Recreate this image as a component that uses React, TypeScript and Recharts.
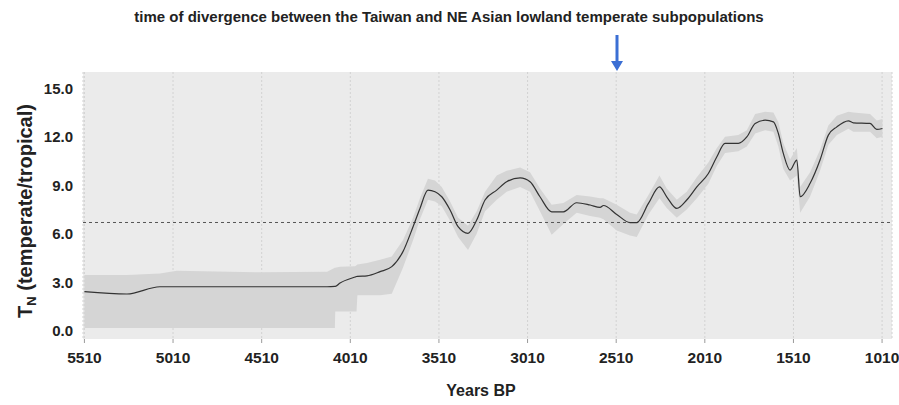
import {
  ComposedChart,
  Area,
  Line,
  XAxis,
  YAxis,
  CartesianGrid,
  ReferenceLine,
} from "recharts";

// years before present (x), mean T_N and the shaded interval around it
const years = [
  5510, 5270, 5084, 4988, 4520, 4141, 4097, 4095, 4068, 3983, 3975, 3970,
  3916, 3842, 3776, 3713, 3656, 3617, 3572, 3532, 3494, 3447, 3402, 3346,
  3297, 3250, 3184, 3128, 3052, 2996, 2940, 2874, 2808, 2733, 2657, 2601,
  2582, 2507, 2432, 2394, 2328, 2266, 2225, 2168, 2112, 2055, 1990, 1942,
  1896, 1821, 1773, 1726, 1670, 1623, 1595, 1567, 1529, 1491, 1472, 1416,
  1360, 1313, 1265, 1200, 1172, 1078, 1040, 1008,
];
const meanTn = [
  2.43, 2.28, 2.73, 2.73, 2.73, 2.73, 2.75, 2.75, 2.96, 3.33, 3.36, 3.37,
  3.4, 3.66, 3.97, 4.9, 6.44, 7.57, 8.7, 8.6, 8.29, 7.47, 6.44, 6.03,
  6.85, 8.09, 8.7, 9.22, 9.46, 9.22, 8.29, 7.36, 7.36, 7.92, 7.78, 7.63,
  7.75, 7.2, 6.69, 6.69, 7.88, 8.9, 8.29, 7.57, 8.09, 8.9, 9.73, 10.76,
  11.59, 11.59, 11.99, 12.82, 13.02, 12.92, 12.2, 10.97, 9.94, 10.56, 8.29, 9.12,
  10.56, 12.1, 12.61, 12.98, 12.86, 12.82, 12.45, 12.51,
];
const lowerTn = [
  0.18, 0.18, 0.18, 0.18, 0.18, 0.18, 0.18, 1.2, 1.2, 1.2, 1.2, 2.2,
  2.2, 2.2, 2.3, 3.9, 5.6, 6.9, 8.1, 8.0, 7.7, 6.8, 5.8, 5.0,
  6.0, 7.4, 8.1, 8.6, 8.9, 8.6, 7.4, 5.95, 6.6, 7.3, 7.1, 7.0,
  6.9, 6.2, 5.9, 5.8, 7.2, 8.2, 7.6, 7.0, 7.5, 8.2, 9.1, 10.2,
  11.0, 11.1, 11.4, 12.2, 12.4, 12.3, 11.4, 10.0, 9.3, 9.6, 7.3, 8.3,
  9.9, 11.5, 12.1, 12.5, 12.3, 12.3, 11.9, 12.0,
];
const upperTn = [
  3.46, 3.46, 3.55, 3.72, 3.62, 3.65, 3.9, 3.9, 3.97, 4.0, 4.05, 4.1,
  4.2, 4.4, 4.6, 5.6, 7.0, 8.2, 9.4, 9.3, 8.9, 8.0, 7.0, 6.5,
  7.4, 8.6, 9.6, 9.9, 10.1, 9.8, 8.8, 7.8, 7.9, 8.4, 8.3, 8.2,
  8.2, 7.8, 7.3, 7.2, 8.4, 9.6, 8.8, 8.1, 8.6, 9.5, 10.4, 11.3,
  12.0, 12.1, 12.4, 13.4, 13.55, 13.5, 12.9, 11.6, 10.6, 11.3, 8.9, 9.8,
  11.2, 12.7, 13.3, 13.55, 13.5, 13.4, 13.0, 13.1,
];

const xTicks = [5510, 5010, 4510, 4010, 3510, 3010, 2510, 2010, 1510, 1010];
const yTicks = [0, 3, 6, 9, 12, 15];
const threshold = 6.7;
const divergenceYear = 2510;

const data = years.map((year, i) => ({
  year,
  mean: meanTn[i],
  band: [lowerTn[i], upperTn[i]],
}));

const FONT = "'Liberation Sans', Arial, Helvetica, sans-serif";

const App = () => {
  return (
    <div style={{ position: "absolute", left: 0, top: 0, width: 899, height: 405, fontFamily: FONT }}>
      <ComposedChart
        width={899}
        height={405}
        data={data}
        margin={{ top: 72, right: 7, bottom: 0, left: 0 }}
      >
        <CartesianGrid
          horizontal={false}
          fill="#ebebeb"
          stroke="#d2d2d2"
          strokeDasharray="2 2"
        />
        <XAxis
          dataKey="year"
          type="number"
          reversed
          domain={[954, 5518]}
          ticks={xTicks}
          height={66}
          axisLine={false}
          tickLine={{ stroke: "#9a9a9a" }}
          tickSize={4}
          tick={{ fill: "#222", fontSize: 15.5, fontWeight: 700, fontFamily: FONT }}
          tickMargin={9}
        />
        <YAxis
          type="number"
          domain={[-0.5, 16]}
          ticks={yTicks}
          width={83}
          axisLine={false}
          tickLine={false}
          tickFormatter={(v: number) => v.toFixed(1)}
          tick={{ fill: "#222", fontSize: 15, fontWeight: 700, fontFamily: FONT }}
          tickMargin={4}
        />
        <Area
          dataKey="band"
          type="linear"
          stroke="none"
          fill="#d5d5d5"
          fillOpacity={1}
          isAnimationActive={false}
        />
        <ReferenceLine y={threshold} stroke="#555" strokeDasharray="3 3" strokeWidth={1} />
        <Line
          dataKey="mean"
          type="monotone"
          stroke="#333"
          strokeWidth={1.2}
          dot={false}
          isAnimationActive={false}
        />
      </ComposedChart>
      <svg
        width={899}
        height={405}
        style={{ position: "absolute", left: 0, top: 0, pointerEvents: "none" }}
      >
        <text
          x={449}
          y={22}
          textAnchor="middle"
          fontSize={15}
          fontWeight={700}
          fill="#222"
          fontFamily={FONT}
        >
          time of divergence between the Taiwan and NE Asian lowland temperate subpopulations
        </text>
        {/* arrow marks the divergence time at {divergenceYear} BP */}
        <line x1={617} y1={35} x2={617} y2={62} stroke="#3b6fd4" strokeWidth={3} />
        <polygon points="611,61 623,61 617,71" fill="#3b6fd4" />
        <text
          transform="translate(32,211) rotate(-90)"
          textAnchor="middle"
          fontSize={20}
          fontWeight={700}
          fill="#222"
          fontFamily={FONT}
        >
          T
          <tspan fontSize={13} dy={4}>N</tspan>
          <tspan dy={-4}> (temperate/tropical)</tspan>
        </text>
        <text
          x={481}
          y={396}
          textAnchor="middle"
          fontSize={16}
          fontWeight={700}
          fill="#222"
          fontFamily={FONT}
        >
          Years BP
        </text>
      </svg>
    </div>
  );
};

export default App;
